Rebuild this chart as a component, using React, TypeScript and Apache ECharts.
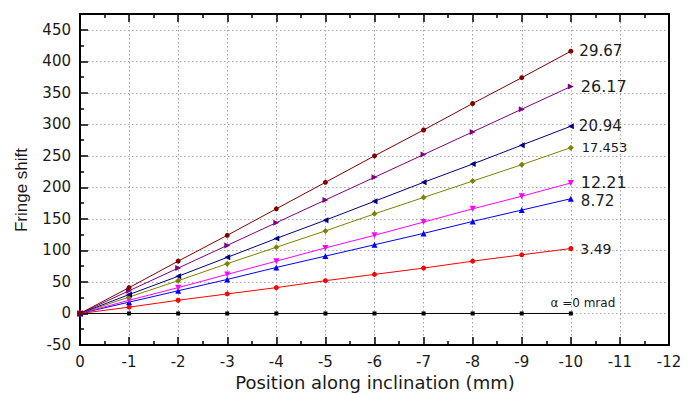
import React, { useEffect, useRef } from "react";
import * as echarts from "echarts";

// Positions along the inclination (mm)
const positions = [0, -1, -2, -3, -4, -5, -6, -7, -8, -9, -10];

// Fringe shift for each inclination angle (mrad)
const shift0 = [0, 0, 0, 0, 0, 0, 0, 0, 0, 0, 0];
const shift349 = [0, 10, 21, 31, 41, 52, 62, 72, 83, 93, 103];
const shift872 = [0, 18, 36, 54, 73, 91, 109, 127, 146, 164, 182];
const shift1221 = [0, 21, 41, 62, 83, 104, 124, 145, 166, 186, 207];
const shift17453 = [0, 26, 52, 79, 105, 131, 158, 184, 210, 236, 263];
const shift2094 = [0, 30, 59, 89, 119, 148, 178, 208, 237, 267, 297];
const shift2617 = [0, 36, 72, 108, 144, 180, 216, 252, 288, 324, 360];
const shift2967 = [0, 41, 83, 124, 166, 208, 250, 291, 333, 374, 416];

const angleLabels = ["α =0 mrad", "3.49", "8.72", "12.21", "17.453", "20.94", "26.17", "29.67"];

const yTicks = [-50, 0, 50, 100, 150, 200, 250, 300, 350, 400, 450];

const TRI_DOWN = "path://M0,0L10,0L5,9Z";
const TRI_LEFT = "path://M0,5L9,0L9,10Z";
const TRI_RIGHT = "path://M0,0L9,5L0,10Z";

const seriesDefs = [
  { values: shift0, color: "#000000", symbol: "rect", size: 4, font: 12, pos: "top", offset: [12, 3] },
  { values: shift349, color: "#ff0000", symbol: "circle", size: 5, font: 14, pos: "right", offset: [2, 0] },
  { values: shift872, color: "#0000ff", symbol: "triangle", size: 6, font: 15, pos: "right", offset: [2, 2] },
  { values: shift1221, color: "#ff00ff", symbol: TRI_DOWN, size: 6, font: 16, pos: "right", offset: [2, 0] },
  { values: shift17453, color: "#808000", symbol: "diamond", size: 6, font: 13, pos: "right", offset: [3, 0] },
  { values: shift2094, color: "#000080", symbol: TRI_LEFT, size: 6, font: 15, pos: "right", offset: [0, 0] },
  { values: shift2617, color: "#800080", symbol: TRI_RIGHT, size: 6, font: 16, pos: "right", offset: [2, 0] },
  { values: shift2967, color: "#800000", symbol: "circle", size: 5, font: 15, pos: "right", offset: [1, 0] },
];

export default function App() {
  const ref = useRef<HTMLDivElement>(null);

  useEffect(() => {
    if (!ref.current) return;
    const chart = echarts.init(ref.current, null, { renderer: "svg" });

    const last = positions.length - 1;
    const series = seriesDefs.map((s, i) => ({
      type: "line",
      name: angleLabels[i],
      xAxisIndex: 0,
      yAxisIndex: 0,
      data: positions.map((x, k) => {
        const item: any = { value: [x, s.values[k]] };
        if (k === last) {
          item.label = {
            show: true,
            formatter: angleLabels[i],
            position: s.pos,
            offset: s.offset,
            fontSize: s.font,
            fontFamily: "DejaVu Sans",
            color: "#1a1a1a",
          };
        }
        return item;
      }),
      symbol: s.symbol,
      symbolSize: s.size,
      showAllSymbol: true,
      lineStyle: { color: s.color, width: 1 },
      itemStyle: { color: s.color },
      z: 3 + i,
    }));

    const gridLine = { show: true, lineStyle: { color: "#a8a8a8", type: [1.5, 2.5], width: 1 } };

    chart.setOption({
      animation: false,
      backgroundColor: "#ffffff",
      grid: { left: 80, right: 29, top: 14, bottom: 49 },
      xAxis: [
        {
          type: "value",
          position: "bottom",
          min: -12,
          max: 0,
          interval: 1,
          inverse: true,
          axisLine: { show: true, onZero: false, lineStyle: { color: "#000", width: 2 } },
          axisTick: { show: true, inside: true, length: 8, lineStyle: { color: "#000", width: 1.5 } },
          minorTick: { show: true, splitNumber: 2, length: 4, lineStyle: { color: "#000", width: 1.5 } },
          axisLabel: {
            fontSize: 15,
            fontFamily: "DejaVu Sans",
            color: "#1a1a1a",
            margin: 9,
            formatter: (v: number) => String(v),
          },
          splitLine: gridLine,
        },
        {
          type: "value",
          position: "top",
          min: -12,
          max: 0,
          interval: 1,
          inverse: true,
          axisLine: { show: true, onZero: false, lineStyle: { color: "#000", width: 2 } },
          axisTick: { show: true, inside: true, length: 8, lineStyle: { color: "#000", width: 1.5 } },
          minorTick: { show: true, splitNumber: 2, length: 4, lineStyle: { color: "#000", width: 1.5 } },
          axisLabel: { show: false },
          splitLine: { show: false },
        },
      ],
      yAxis: [
        {
          type: "value",
          position: "left",
          min: -50,
          max: 475,
          interval: 50,
          axisLine: { show: true, onZero: false, lineStyle: { color: "#000", width: 2 } },
          axisTick: { show: true, inside: true, length: 8, lineStyle: { color: "#000", width: 1.5 } },
          minorTick: { show: true, splitNumber: 2, length: 4, lineStyle: { color: "#000", width: 1.5 } },
          axisLabel: {
            fontSize: 15,
            fontFamily: "DejaVu Sans",
            color: "#1a1a1a",
            margin: 9,
            formatter: (v: number) => (yTicks.includes(v) ? String(v) : ""),
          },
          splitLine: gridLine,
        },
        {
          type: "value",
          position: "right",
          min: -50,
          max: 475,
          interval: 50,
          axisLine: { show: true, onZero: false, lineStyle: { color: "#000", width: 2 } },
          axisTick: { show: false },
          axisLabel: { show: false },
          splitLine: { show: false },
        },
      ],
      graphic: [
        {
          type: "text",
          x: 375,
          y: 382,
          style: {
            text: "Position along inclination (mm)",
            fontSize: 18,
            fontFamily: "DejaVu Sans",
            fill: "#1a1a1a",
            align: "center",
            verticalAlign: "middle",
          },
        },
        {
          type: "text",
          x: 21,
          y: 190,
          rotation: Math.PI / 2,
          style: {
            text: "Fringe shift",
            fontSize: 17,
            fontFamily: "Liberation Sans",
            fill: "#1a1a1a",
            align: "center",
            verticalAlign: "middle",
          },
        },
      ],
      series,
    });

    return () => chart.dispose();
  }, []);

  return <div ref={ref} style={{ width: 698, height: 394, marginLeft: -8, marginTop: -8 }} />;
}
